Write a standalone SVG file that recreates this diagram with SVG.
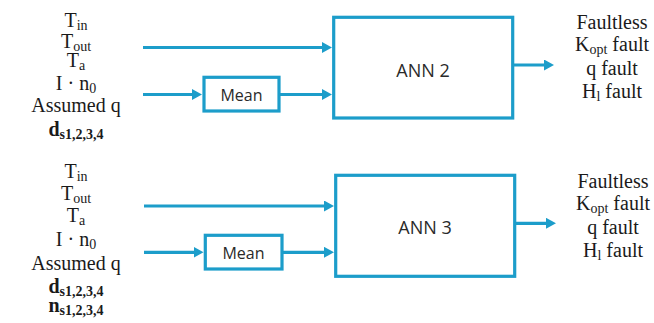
<svg xmlns="http://www.w3.org/2000/svg" width="654" height="323" viewBox="0 0 654 323">
<style>
.bg{fill:#ffffff}
.box{fill:#ffffff;stroke:#1c9dca;stroke-width:3.2}
.ln{fill:none;stroke:#1c9dca;stroke-width:3.2}
.ser{font-family:"Liberation Serif","DejaVu Serif",serif;font-size:20px;fill:#1a1a1a;text-anchor:middle}
.sub{font-size:14px}
.b{font-weight:bold}
.sans{font-family:"Open Sans","Noto Sans","Liberation Sans",sans-serif;fill:#2a2a2a;text-anchor:middle}
.ann{font-size:18px}
.mean{font-size:16px}
</style>
<defs>
<marker id="arr" markerUnits="userSpaceOnUse" markerWidth="10" markerHeight="11" refX="5" refY="5.5" orient="auto">
<path d="M0,0 L10,5.5 L0,11 z" fill="#1c9dca"/>
</marker>
</defs>
<rect class="bg" x="0" y="0" width="654" height="323"/>

<g id="inputs-top">
<text class="ser" x="76" y="27">T<tspan class="sub" dy="3">in</tspan></text>
<text class="ser" x="76" y="48">T<tspan class="sub" dy="3">out</tspan></text>
<text class="ser" x="76" y="67">T<tspan class="sub" dy="3">a</tspan></text>
<text class="ser" x="76" y="90">I · n<tspan class="sub" dy="3">0</tspan></text>
<text class="ser" x="76" y="112">Assumed q</text>
<text class="ser b" x="76" y="136">d<tspan class="sub" dy="3">s1,2,3,4</tspan></text>
</g>

<g id="mean2">
<rect class="box" x="204" y="77.3" width="75" height="33.7"/>
<text class="sans mean" x="241.5" y="101">Mean</text>
</g>

<g id="ann2">
<rect class="box" x="333.7" y="17.3" width="179" height="100.7"/>
<text class="sans ann" x="423" y="76.5">ANN 2</text>
</g>

<g id="outputs-top">
<text class="ser" x="612" y="29">Faultless</text>
<text class="ser" x="612" y="51">K<tspan class="sub" dy="3">opt</tspan><tspan dy="-3"> fault</tspan></text>
<text class="ser" x="612" y="75">q fault</text>
<text class="ser" x="612" y="98">H<tspan class="sub" dy="3">l</tspan><tspan dy="-3"> fault</tspan></text>
</g>

<g id="inputs-bottom">
<text class="ser" x="76" y="178">T<tspan class="sub" dy="3">in</tspan></text>
<text class="ser" x="76" y="200">T<tspan class="sub" dy="3">out</tspan></text>
<text class="ser" x="76" y="222">T<tspan class="sub" dy="3">a</tspan></text>
<text class="ser" x="76" y="246">I · n<tspan class="sub" dy="3">0</tspan></text>
<text class="ser" x="76" y="270">Assumed q</text>
<text class="ser b" x="76" y="293">d<tspan class="sub" dy="3">s1,2,3,4</tspan></text>
<text class="ser b" x="76" y="312">n<tspan class="sub" dy="3">s1,2,3,4</tspan></text>
</g>

<g id="mean3">
<rect class="box" x="205.3" y="235.3" width="76.7" height="33.7"/>
<text class="sans mean" x="243.5" y="259">Mean</text>
</g>

<g id="ann3">
<rect class="box" x="335.7" y="175.3" width="179" height="101"/>
<text class="sans ann" x="425" y="234">ANN 3</text>
</g>

<g id="outputs-bottom">
<text class="ser" x="613" y="188">Faultless</text>
<text class="ser" x="613" y="210">K<tspan class="sub" dy="3">opt</tspan><tspan dy="-3"> fault</tspan></text>
<text class="ser" x="613" y="234">q fault</text>
<text class="ser" x="613" y="257">H<tspan class="sub" dy="3">l</tspan><tspan dy="-3"> fault</tspan></text>
</g>

<g id="connectors">
<line class="ln" x1="143" y1="47.5" x2="327" y2="47.5" marker-end="url(#arr)"/>
<line class="ln" x1="143" y1="94.5" x2="197" y2="94.5" marker-end="url(#arr)"/>
<line class="ln" x1="279" y1="94.5" x2="327" y2="94.5" marker-end="url(#arr)"/>
<line class="ln" x1="512.7" y1="65" x2="549" y2="65" marker-end="url(#arr)"/>
<line class="ln" x1="144" y1="206" x2="329" y2="206" marker-end="url(#arr)"/>
<line class="ln" x1="144" y1="252.3" x2="198.5" y2="252.3" marker-end="url(#arr)"/>
<line class="ln" x1="282" y1="252.3" x2="329" y2="252.3" marker-end="url(#arr)"/>
<line class="ln" x1="514.7" y1="223.3" x2="551" y2="223.3" marker-end="url(#arr)"/>
</g>
</svg>
